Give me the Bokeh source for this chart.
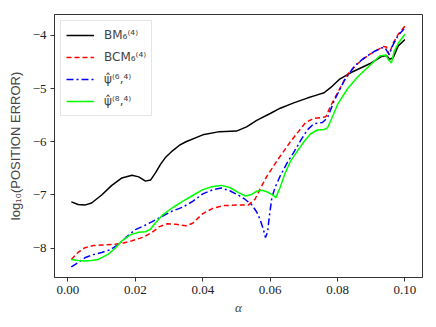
from bokeh.plotting import figure
from bokeh.models import Range1d, FixedTicker, Legend, LegendItem
from bokeh.embed import file_html
from bokeh.resources import INLINE

# ---------------- data ----------------
bm_a = [0.001, 0.003, 0.005, 0.007, 0.010, 0.013, 0.016, 0.019, 0.021, 0.023, 0.0245, 0.026, 0.0275, 0.029,
        0.031, 0.033, 0.035, 0.040, 0.045, 0.050, 0.053, 0.056, 0.060, 0.063, 0.067, 0.071, 0.074, 0.076,
        0.078, 0.0805, 0.084, 0.087, 0.090, 0.093, 0.0945, 0.0955, 0.0965, 0.098, 0.100]
bm_v = [-7.13, -7.18, -7.19, -7.15, -7.00, -6.82, -6.68, -6.63, -6.66, -6.74, -6.72, -6.58, -6.42, -6.29,
        -6.17, -6.07, -6.00, -5.87, -5.81, -5.80, -5.72, -5.60, -5.47, -5.37, -5.27, -5.18, -5.12, -5.08,
        -4.98, -4.83, -4.70, -4.61, -4.52, -4.40, -4.38, -4.45, -4.42, -4.20, -4.08]

bcm_a = [0.001, 0.003, 0.005, 0.0075, 0.010, 0.013, 0.016, 0.019, 0.0225, 0.025, 0.027, 0.0295, 0.032, 0.035,
         0.037, 0.040, 0.043, 0.046, 0.050, 0.0535, 0.0555, 0.057, 0.059, 0.062, 0.064, 0.066, 0.0685, 0.0705,
         0.073, 0.075, 0.0765, 0.078, 0.080, 0.083, 0.086, 0.089, 0.092, 0.0935, 0.0945, 0.0953, 0.0963,
         0.098, 0.100]
bcm_v = [-8.21, -8.08, -7.99, -7.95, -7.94, -7.93, -7.91, -7.86, -7.79, -7.70, -7.60, -7.54, -7.55, -7.58,
         -7.53, -7.35, -7.25, -7.20, -7.19, -7.19, -7.08, -6.89, -6.65, -6.36, -6.18, -6.00, -5.80, -5.64,
         -5.56, -5.55, -5.53, -5.32, -5.08, -4.73, -4.53, -4.38, -4.27, -4.21, -4.22, -4.37, -4.17,
         -3.98, -3.83]

p64_a = [0.001, 0.003, 0.005, 0.0075, 0.010, 0.0125, 0.015, 0.0175, 0.020, 0.0225, 0.025, 0.028, 0.031, 0.034,
         0.037, 0.040, 0.043, 0.0455, 0.048, 0.0505, 0.0525, 0.0545, 0.056, 0.057, 0.058, 0.0586, 0.0592,
         0.0598, 0.0605, 0.0615, 0.063, 0.065, 0.067, 0.069, 0.071, 0.073, 0.0755, 0.077, 0.079, 0.082,
         0.085, 0.088, 0.091, 0.093, 0.094, 0.0953, 0.0963, 0.098, 0.100]
p64_v = [-8.35, -8.27, -8.18, -8.12, -8.08, -8.03, -7.93, -7.78, -7.65, -7.58, -7.50, -7.40, -7.30, -7.23,
         -7.12, -6.98, -6.90, -6.87, -6.92, -7.00, -7.08, -7.18, -7.32, -7.46, -7.65, -7.80, -7.70,
         -7.38, -7.05, -6.85, -6.64, -6.40, -6.20, -5.98, -5.78, -5.66, -5.64, -5.55, -5.23, -4.85,
         -4.58, -4.42, -4.30, -4.24, -4.23, -4.36, -4.20, -4.00, -3.86]

p84_a = [0.001, 0.003, 0.005, 0.007, 0.009, 0.012, 0.014, 0.016, 0.0185, 0.021, 0.023, 0.0245, 0.026, 0.028,
         0.031, 0.034, 0.037, 0.040, 0.043, 0.0455, 0.048, 0.0505, 0.0527, 0.0545, 0.056, 0.0575, 0.059,
         0.0605, 0.0617, 0.063, 0.0645, 0.066, 0.068, 0.070, 0.072, 0.074, 0.076, 0.077, 0.078, 0.080,
         0.083, 0.086, 0.089, 0.0925, 0.0943, 0.0952, 0.096, 0.0968, 0.098, 0.100]
p84_v = [-8.21, -8.23, -8.24, -8.23, -8.21, -8.11, -8.00, -7.86, -7.75, -7.70, -7.69, -7.64, -7.52, -7.38,
         -7.24, -7.12, -7.01, -6.90, -6.84, -6.82, -6.86, -6.95, -7.02, -6.99, -6.93, -6.91, -6.94,
         -6.99, -7.05, -6.85, -6.58, -6.37, -6.18, -6.00, -5.85, -5.78, -5.77, -5.74, -5.60, -5.30,
         -5.00, -4.78, -4.60, -4.39, -4.37, -4.47, -4.52, -4.30, -4.15, -3.98]

x_ticks = [0.00, 0.02, 0.04, 0.06, 0.08, 0.10]
x_tick_labels = ["0.00", "0.02", "0.04", "0.06", "0.08", "0.10"]
y_ticks = [-8, -7, -6, -5, -4]
y_tick_labels = ["\u22128", "\u22127", "\u22126", "\u22125", "\u22124"]

labels = ["BM\u2086\u207d\u2074\u207e", "BCM\u2086\u207d\u2074\u207e",
          "\u03c8\u0302\u207d\u2076,\u2074\u207e", "\u03c8\u0302\u207d\u2078,\u2074\u207e"]

# ---------------- figure ----------------
p = figure(width=434, height=325, output_backend="svg", toolbar_location=None,
           x_range=Range1d(-0.004, 0.1052), y_range=Range1d(-8.55, -3.61),
           min_border_left=54, min_border_right=12, min_border_top=14, min_border_bottom=48)

p.xgrid.visible = False
p.ygrid.visible = False
p.outline_line_color = "#333333"
p.outline_line_width = 1
p.background_fill_color = "white"
p.border_fill_color = "white"

serif = "Liberation Serif"
for ax in (p.xaxis[0], p.yaxis[0]):
    ax.axis_line_color = "#333333"
    ax.major_tick_line_color = "#333333"
    ax.minor_tick_line_color = None
    ax.major_tick_in = 0
    ax.major_tick_out = 4
    ax.major_label_text_font = serif
    ax.major_label_text_font_size = "13px"
    ax.major_label_text_color = "#222222"
    ax.major_label_standoff = 4

p.xaxis.ticker = FixedTicker(ticks=x_ticks)
p.xaxis.major_label_overrides = {t: l for t, l in zip(x_ticks, x_tick_labels)}
p.yaxis.ticker = FixedTicker(ticks=y_ticks)
p.yaxis.major_label_overrides = {t: l for t, l in zip(y_ticks, y_tick_labels)}

p.xaxis.axis_label = "\u03b1"
p.xaxis.axis_label_text_font = serif
p.xaxis.axis_label_text_font_style = "italic"
p.xaxis.axis_label_text_font_size = "13px"
p.xaxis.axis_label_standoff = 3

p.yaxis.axis_label = "log\u2081\u2080(POSITION ERROR)"
p.yaxis.axis_label_text_font = "Liberation Sans"
p.yaxis.axis_label_text_font_style = "normal"
p.yaxis.axis_label_text_font_size = "13px"
p.yaxis.axis_label_standoff = 7

r1 = p.line(bm_a, bm_v, line_color="black", line_width=1.5)
r2 = p.line(bcm_a, bcm_v, line_color="#ff0000", line_width=1.5, line_dash="5 3")
r3 = p.line(p64_a, p64_v, line_color="#0000ff", line_width=1.5, line_dash="7 3 2 3")
r4 = p.line(p84_a, p84_v, line_color="#00ff00", line_width=1.5)

legend = Legend(items=[LegendItem(label=l, renderers=[r]) for l, r in zip(labels, [r1, r2, r3, r4])],
                location="top_left")
legend.label_text_font = "DejaVu Sans"
legend.label_text_font_size = "12px"
legend.glyph_width = 28
legend.glyph_height = 18
legend.label_height = 18
legend.label_standoff = 10
legend.spacing = 4
legend.padding = 5
legend.margin = 6
legend.border_line_color = "#cccccc"
legend.border_line_width = 1
legend.background_fill_color = "white"
legend.background_fill_alpha = 0.8
p.add_layout(legend)

open("out.html", "w").write(file_html(p, INLINE))
